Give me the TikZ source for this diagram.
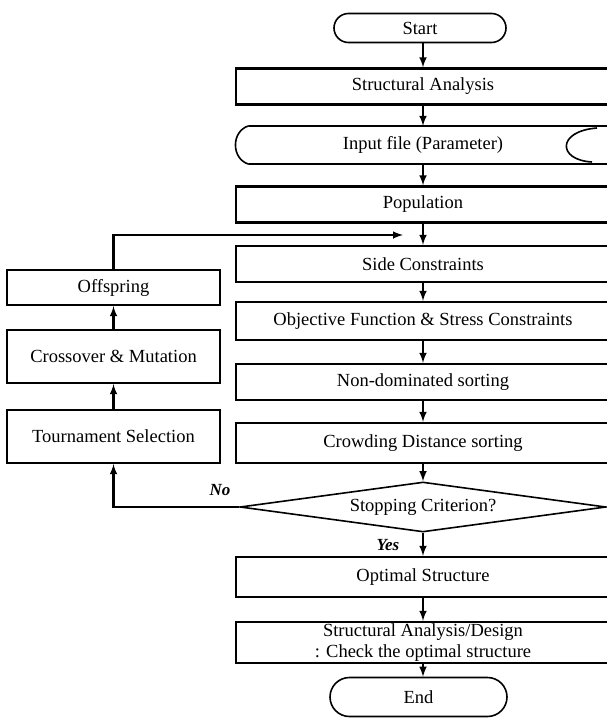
\documentclass[tikz,border=0pt]{standalone}
\usepackage{fontspec}
\setmainfont{Liberation Serif}
\usetikzlibrary{arrows,shapes.geometric,shapes.misc}

\begin{document}
\begin{tikzpicture}[x=1pt,y=-1pt,line width=2.4pt,
every node/.style={font=\fontsize{18.5}{21}\selectfont, inner sep=0pt},
box/.style={draw, rectangle, minimum width=374, minimum height=36},
lbox/.style={draw, rectangle, minimum width=213, minimum height=35},
term/.style={draw, rounded rectangle, minimum width=172, minimum height=29, line width=1.6pt},
decision/.style={draw, diamond, aspect=7.3, minimum width=366, minimum height=50, line width=1.6pt},
lbl/.style={font=\fontsize{17}{20}\selectfont\bfseries\itshape}]
\useasboundingbox (0,0) rectangle (606,718);

\node[term] (start) at (420,28) {Start};
\node[box] (sa) at (423,86.5) {Structural Analysis};
\node[minimum width=374, minimum height=36] (inp) at (423,145) {Input file (Parameter)};
\node[box] (pop) at (423,204.5) {Population};
\node[box] (side) at (423,264) {Side Constraints};
\node[box, minimum height=38] (obj) at (423,321) {Objective Function \& Stress Constraints};
\node[box] (nds) at (423,382) {Non-dominated sorting};
\node[box, minimum height=40] (cds) at (423,443) {Crowding Distance sorting};
\node[decision] (stop) at (423,507) {Stopping Criterion?};
\node[box, minimum height=40] (opt) at (423,577) {Optimal Structure};
\node[box, minimum height=41, align=center] (sad) at (423,642.5) {Structural Analysis/Design\\: Check the optimal structure};
\node[term, minimum width=177, minimum height=39] (end) at (418.5,697) {End};

\node[lbox] (off) at (113.5,287.5) {Offspring};
\node[lbox, minimum height=53] (cm) at (113.5,356.5) {Crossover \& Mutation};
\node[lbox, minimum height=53] (ts) at (113.5,436.5) {Tournament Selection};

\node[lbl] (no) at (220,490) {No};
\node[lbl] (yes) at (388,545) {Yes};

\draw ([xshift=14]inp.north west) -- ([xshift=2]inp.north east)
      ([xshift=14]inp.south west) -- ([xshift=2]inp.south east);
\draw[line width=1.6pt] ([xshift=14]inp.north west) .. controls (231,131) and (231,159) .. ([xshift=14]inp.south west);
\draw[line width=1.6pt] (597,128) .. controls (557,131) and (557,160) .. (592,162);

\draw[-latex] (start.south -| sa.north) -- (sa.north);
\draw[-latex] (sa) -- (inp);
\draw[-latex] (inp) -- (pop);
\draw[-latex] (pop) -- (side);
\draw[-latex] (side) -- (obj);
\draw[-latex] (obj) -- (nds);
\draw[-latex] (nds) -- (cds);
\draw[-latex] (cds) -- (stop.north);
\draw[-latex] (stop.south) -- (opt);
\draw[-latex] (opt) -- (sad);
\draw[-latex] (sad.south) -- (end.north -| sad.south);

\coordinate (join) at (403,235);
\draw[-latex] (stop.west) -| (ts.south);
\draw[-latex] (ts) -- (cm);
\draw[-latex] (cm) -- (off);
\draw[-latex] (off.north) |- (join);
\end{tikzpicture}
\end{document}
